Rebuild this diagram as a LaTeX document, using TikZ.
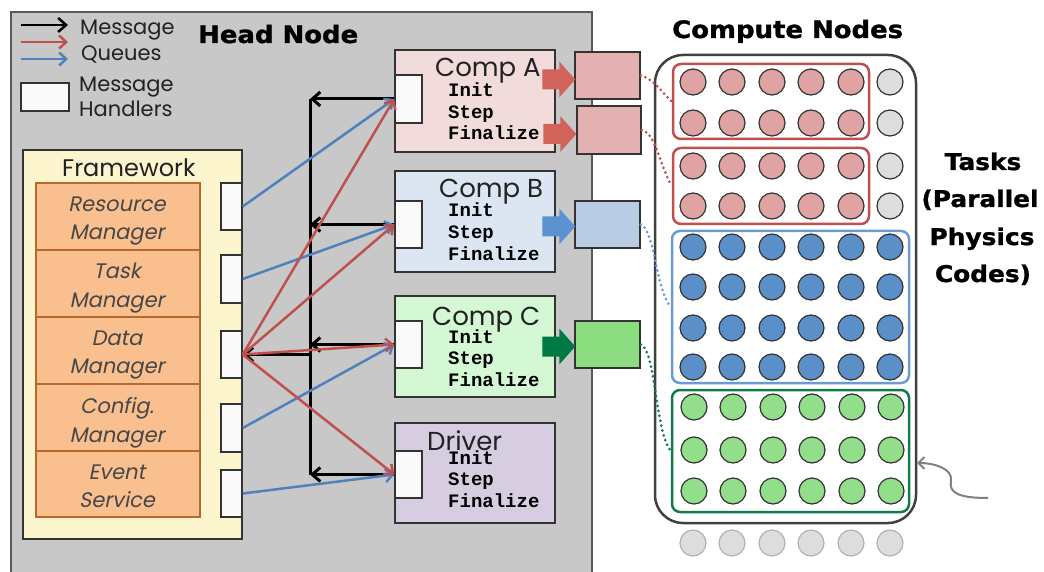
\documentclass[tikz,border=0pt]{standalone}
\usepackage{fontspec}
\setmainfont{Poppins}
\newfontfamily\slantfont[FakeSlant=0.2]{Poppins}
\newfontfamily\heavyfont[BoldFeatures={FakeBold=1.2,FakeStretch=1.08}]{DejaVu Sans}
\newfontfamily\codefont{Liberation Mono}
\usetikzlibrary{arrows.meta,fit,calc}
\newcommand\setfs[1]{\fontsize{#1}{#1}\selectfont}
\definecolor{headgray}{HTML}{C8C8C8}
\definecolor{fwyellow}{HTML}{FCF5CE}
\definecolor{mgrfill}{HTML}{F9BF8F}
\definecolor{mgrline}{HTML}{B9682B}
\definecolor{compAf}{HTML}{F2DCDB}
\definecolor{compBf}{HTML}{DCE6F2}
\definecolor{compCf}{HTML}{D3F8D3}
\definecolor{drvf}{HTML}{D6CDE1}
\definecolor{outA}{HTML}{E3B1B1}
\definecolor{outB}{HTML}{B8CCE4}
\definecolor{outC}{HTML}{8CDC80}
\definecolor{qred}{HTML}{C0504D}
\definecolor{qblue}{HTML}{4F81BD}
\definecolor{farrA}{HTML}{D1635A}
\definecolor{farrB}{HTML}{5B93D0}
\definecolor{farrC}{HTML}{007A45}
\definecolor{cred}{HTML}{E0A3A3}
\definecolor{cblue}{HTML}{5B8FC7}
\definecolor{cgreen}{HTML}{92DE8B}
\definecolor{cgray}{HTML}{DDDDDD}
\definecolor{gblue}{HTML}{6A9BD3}
\definecolor{ggreen}{HTML}{137B4A}
\definecolor{txt}{HTML}{222222}
\newcommand\fatarrow[2]{%
  \fill[#2] ($(#1)+(-33,-10)$) -- ($(#1)+(-16,-10)$) -- ($(#1)+(-16,-18)$) -- (#1)
    -- ($(#1)+(-16,18)$) -- ($(#1)+(-16,10)$) -- ($(#1)+(-33,10)$) -- cycle;}
\begin{document}
\begin{tikzpicture}[x=1pt,y=-1pt,
  box/.style={inner sep=0pt, line width=1.5pt, draw=black!80},
  handler/.style={box, fill=white!98!black},
  mgr/.style={inner sep=0pt, draw=mgrline, fill=mgrfill, line width=2pt},
  lbl/.style={anchor=base west, inner sep=0pt, text=txt},
  mgrtxt/.style={anchor=base, inner sep=0pt, text=black!72, font=\slantfont\setfs{21}},
  codetxt/.style={anchor=base west, inner sep=0pt, font=\codefont\bfseries\setfs{19}},
  comptitle/.style={anchor=base west, inner sep=0pt, font=\setfs{26}, text=txt},
  heavy/.style={inner sep=0pt, font=\heavyfont\bfseries\setfs{23}},
  circ/.style={circle, minimum size=26pt, inner sep=0pt, draw=black!80, line width=1.2pt},
  grp/.style={inner sep=0pt, rounded corners=8pt, line width=2.5pt},
  blk/.style={draw=black, line width=3pt, -{Straight Barb[length=8pt,width=14pt]}},
  redarr/.style={draw=qred, line width=2.5pt, -{Straight Barb[length=7pt,width=13pt]}},
  bluearr/.style={draw=qblue, line width=2.5pt, -{Straight Barb[length=7pt,width=13pt]}},
  dotl/.style={line width=3pt, line cap=round, dash pattern=on 0pt off 5pt},
]
\useasboundingbox (0,0) rectangle (1044,572);
% head node background
\node[box, fill=headgray, draw=black!65, fit={(11,12) (592,600)}] (head) {};
\node[lbl, font=\heavyfont\bfseries\setfs{24}, text=black] (headt) at (198,43) {Head Node};

% legend
\coordinate (l1a) at (21,25); \coordinate (l1b) at (68,25);
\coordinate (l2a) at (21,42); \coordinate (l2b) at (68,42);
\coordinate (l3a) at (21,59); \coordinate (l3b) at (68,59);
\draw[blk, line width=2.5pt] (l1a) -- (l1b);
\draw[redarr] (l2a) -- (l2b);
\draw[bluearr] (l3a) -- (l3b);
\node[lbl, font=\setfs{21}] (lq1) at (80,35) {Message};
\node[lbl, font=\setfs{21}] (lq2) at (81,61) {Queues};
\node[handler, fit={(21,83) (69,111)}] (lbox) {};
\node[lbl, font=\setfs{21}] (lh1) at (79,92) {Message};
\node[lbl, font=\setfs{21}] (lh2) at (79,117) {Handlers};

% framework
\node[box, fill=fwyellow, fit={(23,150) (242,539)}] (fw) {};
\node[lbl, font=\setfs{24}] (fwt) at (62,177) {Framework};
\node[mgr, fit={(36,183) (200,250)}] (mRM) {};
\node[mgr, fit={(36,250) (200,317)}] (mTM) {};
\node[mgr, fit={(36,317) (200,384)}] (mDM) {};
\node[mgr, fit={(36,384) (200,451)}] (mCM) {};
\node[mgr, fit={(36,451) (200,517)}] (mES) {};
\node[mgrtxt] at (117,212) {Resource};
\node[mgrtxt] at (117,240) {Manager};
\node[mgrtxt] at (117,278) {Task};
\node[mgrtxt] at (117,307) {Manager};
\node[mgrtxt] at (117,345) {Data};
\node[mgrtxt] at (117,373) {Manager};
\node[mgrtxt] at (117,413) {Config.};
\node[mgrtxt] at (117,442) {Manager};
\node[mgrtxt] at (117,479) {Event};
\node[mgrtxt] at (117,507) {Service};
\node[handler, fit={(221,183) (242,230)}] (hRM) {};
\node[handler, fit={(221,255) (242,303)}] (hTM) {};
\node[handler, fit={(221,331) (242,378)}] (hDM) {};
\node[handler, fit={(221,404) (242,452)}] (hCM) {};
\node[handler, fit={(221,470) (242,517)}] (hES) {};

% components
\node[box, fill=compAf, fit={(395,50) (555,152)}] (cA) {};
\node[box, fill=compBf, fit={(395,171) (555,272)}] (cB) {};
\node[box, fill=compCf, fit={(395,296) (555,397)}] (cC) {};
\node[box, fill=drvf, fit={(395,423) (555,523)}] (cD) {};
\node[handler, fit={(395,75) (422,123)}] (hA) {};
\node[handler, fit={(395,201) (422,248)}] (hB) {};
\node[handler, fit={(395,321) (422,368)}] (hC) {};
\node[handler, fit={(395,451) (422,498)}] (hD) {};
\node[comptitle] at (435,77) {Comp A};
\node[comptitle] at (439,198) {Comp B};
\node[comptitle] at (432,325) {Comp C};
\node[comptitle] at (427,450) {Driver};
\foreach \yy in {97,217,343,464}{
  \node[codetxt] at (448,\yy) {Init};
  \node[codetxt] at (448,\yy+21.5) {Step};
  \node[codetxt] at (448,\yy+43) {Finalize};
}

% message bus (black)
\coordinate (busx) at (310,0);
\draw[line width=3pt] (hA.west -| busx) -- (hD.west -| busx);
\draw[blk] (hA.west) -- (hA.west -| busx);
\draw[blk] (hB.west) -- (hB.west -| busx);
\draw[blk] (hC.west) -- (hC.west -| busx);
\draw[blk] (hD.west) -- (hD.west -| busx);
\draw[blk] (hDM.east -| busx) -- (hDM.east);
% blue queues
\draw[bluearr] (hRM.east) -- (hA.west);
\draw[bluearr] (hTM.east) -- (hB.west);
\draw[bluearr] (hCM.east) -- (hC.west);
\draw[bluearr] (hES.east) -- (hD.west);
% red queues
\draw[redarr] (hDM.east) -- (hA.west);
\draw[redarr] (hDM.east) -- (hB.west);
\draw[redarr] (hDM.east) -- (hC.west);
\draw[redarr] (hDM.east) -- (hD.west);

% outputs
\node[box, fill=outA, fit={(575,52) (640,99)}] (oA1) {};
\node[box, fill=outA, fit={(577,106) (641,154)}] (oA2) {};
\node[box, fill=outB, fit={(575,201) (640,248)}] (oB) {};
\node[box, fill=outC, fit={(575,321) (640,368)}] (oC) {};
\coordinate (tA1) at ($(oA1.west)+(1,4)$);
\coordinate (tA2) at ($(oA2.west)+(0,4)$);
\coordinate (tB) at ($(oB.west)+(1,2)$);
\coordinate (tC) at ($(oC.west)+(1,2)$);
\fatarrow{tA1}{farrA}
\fatarrow{tA2}{farrA}
\fatarrow{tB}{farrB}
\fatarrow{tC}{farrC}

% compute nodes
\node[heavy, anchor=base west, font=\heavyfont\bfseries\setfs{24}] (cnt) at (672,38) {Compute Nodes};
\node[inner sep=0pt, draw=black!75, line width=2.5pt, rounded corners=28pt, fit={(655,55) (916,523)}] (cn) {};
\foreach \cx [count=\ci] in {693,732,772,811,851,890}{
  \foreach \ry [count=\ri] in {82,123,166,206}{
    \ifnum\ci<6
      \node[circ, fill=cred] (r\ri c\ci) at (\cx,\ry) {};
    \else
      \node[circ, fill=cgray] (r\ri c\ci) at (\cx,\ry) {};
    \fi
  }
  \foreach \ry [count=\ri] in {247,287,328,367}{
    \node[circ, fill=cblue] (b\ri c\ci) at (\cx,\ry) {};
  }
  \foreach \ry [count=\ri] in {407,450,491}{
    \node[circ, fill=cgreen] (g\ri c\ci) at (\cx+1,\ry) {};
  }
  \node[circ, fill=cgray, draw=black!30] (e c\ci) at (\cx,543) {};
}
\node[grp, draw=qred, fit={(673,64) (869,139)}] (gR1) {};
\node[grp, draw=qred, fit={(673,148) (869,224)}] (gR2) {};
\node[grp, draw=gblue, fit={(672,231) (909,383)}] (gB) {};
\node[grp, draw=ggreen, fit={(672,390) (909,512)}] (gG) {};

% dotted links
\draw[dotl, qred] (oA1.east) .. controls +(16,5) and +(-9,-7) .. (gR1.west);
\draw[dotl, qred] (oA2.east) .. controls +(14,3) and +(-11,-18) .. (gR2.west);
\draw[dotl, gblue] (oB.east) .. controls +(14,5) and +(-15,-17) .. (gB.west);
\draw[dotl, ggreen] (oC.east) .. controls +(15,5) and +(-16,-21) .. (gG.west);

% tasks label
\node[heavy, anchor=base] (tk1) at (983,170) {Tasks};
\node[heavy, anchor=base] (tk2) at (980,207) {(Parallel};
\node[heavy, anchor=base] (tk3) at (982,245) {Physics};
\node[heavy, anchor=base] (tk4) at (983,282) {Codes)};

% wavy pointer
\coordinate (wv) at (988,498);
\coordinate (wt) at (917,463);
\draw[gray, line width=2pt, -{Straight Barb[length=6pt,width=12pt]}] (wv) .. controls (962,498) and (948,494) .. (951,481) .. controls (953,469) and (935,463) .. (wt);
\end{tikzpicture}
\end{document}
